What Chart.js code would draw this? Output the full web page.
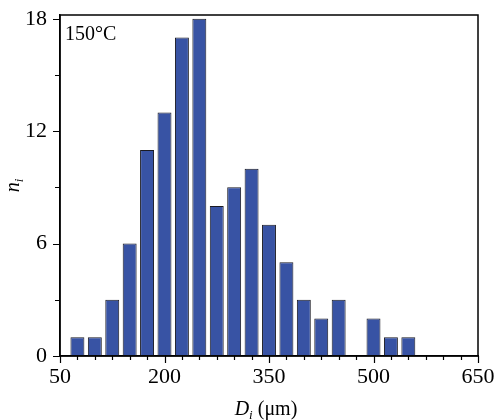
<!DOCTYPE html>
<html>
<head>
<meta charset="utf-8">
<script src="https://cdn.jsdelivr.net/npm/chart.js@4/dist/chart.umd.min.js"></script>
<style>
	html, body { margin: 0; padding: 0; background: #fff; }
	canvas { display: block; }
</style>
</head>
<body>
<canvas id="histChart" width="499" height="420"></canvas>
<script>
// bin centres (µm) and counts
const binCenters = [75, 100, 125, 150, 175, 200, 225, 250, 275, 300, 325, 350, 375, 400, 425, 450, 475, 500, 525, 550];
const counts = [1, 1, 3, 6, 11, 13, 17, 18, 8, 9, 10, 7, 5, 3, 2, 3, 0, 2, 1, 1];
const xMajorTicks = [50, 200, 350, 500, 650];
const yMajorTicks = [0, 6, 12, 18];

const serif = '"Liberation Serif", "Times New Roman", serif';

// frame, tick marks and the rich-text labels
const decorations = {
	id: 'decorations',
	afterDraw(chart) {
		const ctx = chart.ctx;
		const area = chart.chartArea;
		const xs = chart.scales.x;
		const ys = chart.scales.y;
		ctx.save();
		ctx.strokeStyle = '#000';
		ctx.lineWidth = 1.5;
		ctx.strokeRect(area.left, area.top, area.right - area.left, area.bottom - area.top);

		ctx.lineWidth = 1.2;
		ctx.beginPath();
		for (let v = 50; v <= 650; v += 25) {
			const px = Math.round(xs.getPixelForValue(v)) + 0.5;
			const len = xMajorTicks.includes(v) ? 7 : 4;
			ctx.moveTo(px, area.bottom);
			ctx.lineTo(px, area.bottom + len);
		}
		for (let v = 0; v <= 18; v += 3) {
			const py = Math.round(ys.getPixelForValue(v)) + 0.5;
			const len = yMajorTicks.includes(v) ? 7 : 5;
			ctx.moveTo(area.left, py);
			ctx.lineTo(area.left - len, py);
		}
		ctx.stroke();

		ctx.fillStyle = '#000';
		ctx.textBaseline = 'alphabetic';

		// temperature tag
		ctx.font = '20px ' + serif;
		ctx.textAlign = 'left';
		ctx.fillText('150°C', area.left + 5, area.top + 25);

		// x title: D_i (µm)
		const mainFont = 'italic 20px ' + serif;
		const subFont = 'italic 13px ' + serif;
		const restFont = '20px ' + serif;
		ctx.font = mainFont;
		const wD = ctx.measureText('D').width;
		ctx.font = subFont;
		const wi = ctx.measureText('i').width;
		ctx.font = restFont;
		const wRest = ctx.measureText(' (μm)').width;
		let x0 = 266 - (wD + wi + wRest) / 2;
		const base = 415;
		ctx.font = mainFont;
		ctx.fillText('D', x0, base);
		x0 += wD;
		ctx.font = subFont;
		ctx.fillText('i', x0, base + 4);
		x0 += wi;
		ctx.font = restFont;
		ctx.fillText(' (μm)', x0, base);

		// y title: n_i
		ctx.translate(19, (area.top + area.bottom) / 2);
		ctx.rotate(-Math.PI / 2);
		ctx.font = mainFont;
		const wn = ctx.measureText('n').width;
		ctx.font = subFont;
		const wi2 = ctx.measureText('i').width;
		const y0 = -(wn + wi2) / 2;
		ctx.font = mainFont;
		ctx.fillText('n', y0, 0);
		ctx.font = subFont;
		ctx.fillText('i', y0 + wn, 4);
		ctx.restore();
	},
};

const histChart = new Chart(document.getElementById('histChart').getContext('2d'), {
	type: 'bar',
	data: {
		datasets: [
			{
				data: binCenters.map((x, i) => ({ x: x, y: counts[i] })),
				backgroundColor: '#3853a4',
				borderColor: '#1a1a22',
				borderWidth: 1,
				borderSkipped: false,
				barPercentage: 0.8,
				categoryPercentage: 1,
			},
		],
	},
	options: {
		responsive: false,
		animation: false,
		devicePixelRatio: 1,
		layout: {
			padding: { top: 15, right: 21, left: 0, bottom: 0 },
		},
		plugins: {
			legend: { display: false },
			tooltip: { enabled: false },
		},
		scales: {
			x: {
				type: 'linear',
				min: 50,
				max: 650,
				offset: false,
				grid: { display: false, tickLength: 0 },
				border: { display: true, color: '#000', width: 1.5 },
				ticks: {
					stepSize: 25,
					autoSkip: false,
					maxRotation: 0,
					padding: 8,
					color: '#000',
					font: { family: serif, size: 22 },
					callback: (v) => (xMajorTicks.includes(v) ? String(v) : ''),
				},
				afterFit: (scale) => {
					scale.height = 64;
					scale.paddingLeft = 0;
					scale.paddingRight = 0;
				},
			},
			y: {
				min: 0,
				max: 18.2,
				grid: { display: false, tickLength: 0 },
				border: { display: true, color: '#000', width: 1.5 },
				ticks: {
					stepSize: 3,
					includeBounds: false,
					padding: 13,
					color: '#000',
					font: { family: serif, size: 22 },
					callback: (v) => (yMajorTicks.includes(v) ? String(v) : ''),
				},
				afterFit: (scale) => {
					scale.width = 60;
					scale.paddingTop = 0;
					scale.paddingBottom = 0;
				},
			},
		},
	},
	plugins: [decorations],
});
</script>
</body>
</html>
